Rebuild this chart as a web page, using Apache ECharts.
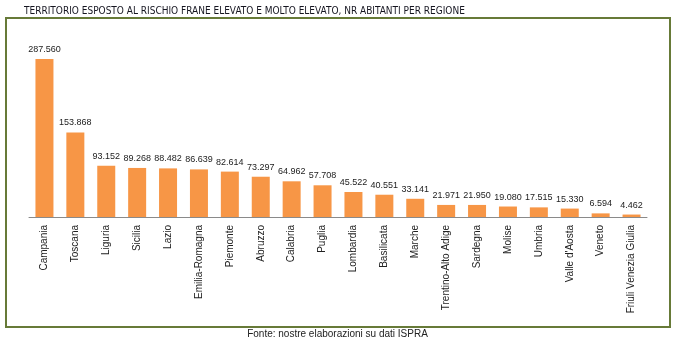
<!DOCTYPE html>
<html><head><meta charset="utf-8">
<script src="https://cdn.jsdelivr.net/npm/echarts@6/dist/echarts.min.js"></script>
<style>html,body{margin:0;padding:0;background:#fff}#c{width:675px;height:344px}</style>
</head><body><div id="c"></div>
<script>
const titleText = 'TERRITORIO ESPOSTO AL RISCHIO FRANE ELEVATO E MOLTO ELEVATO, NR ABITANTI PER REGIONE';
const sourceText = 'Fonte: nostre elaborazioni su dati ISPRA';
const regions = ['Campania','Toscana','Liguria','Sicilia','Lazio','Emilia-Romagna','Piemonte','Abruzzo','Calabria','Puglia','Lombardia','Basilicata','Marche','Trentino-Alto Adige','Sardegna','Molise','Umbria',"Valle d'Aosta",'Veneto','Friuli Venezia Giulia'];
const abitanti = [287560,153868,93152,89268,88482,86639,82614,73297,64962,57708,45522,40551,33141,21971,21950,19080,17515,15330,6594,4462];

function fmt(v){ return String(v).replace(/\B(?=(\d{3})+(?!\d))/g,'.'); }

const chart = echarts.init(document.getElementById('c'), null, {renderer:'canvas'});
chart.setOption({
  animation:false,
  backgroundColor:'#fff',
  graphic:[
    {type:'rect', shape:{x:6,y:18,width:664,height:309}, style:{fill:'none', stroke:'#677a38', lineWidth:2}, z:-1},
    {type:'text', left:24, top:6, style:{text:titleText, font:'10px "DejaVu Sans Condensed"', fill:'#151520'}},
    {type:'text', left:'center', top:329, style:{text:sourceText, font:'10px "Liberation Sans"', fill:'#222'}}
  ],
  grid:{left:29, right:28, top:59, bottom:127},
  xAxis:{type:'category', data:regions,
    axisLine:{lineStyle:{color:'#8a8a8a'}},
    axisTick:{length:5, lineStyle:{color:'#8a8a8a'}},
    axisLabel:{rotate:90, interval:0, margin:8, fontFamily:'Liberation Sans', fontSize:10, color:'#222'}},
  yAxis:{type:'value', min:0, max:287560, show:false, splitLine:{show:false}},
  series:[{type:'bar', data:abitanti, barWidth:18,
    itemStyle:{color:'#f79646'},
    label:{show:true, position:'top', distance:5, fontFamily:'Liberation Sans', fontSize:9, color:'#222', formatter:p=>fmt(p.value)}}]
});
</script></body></html>
